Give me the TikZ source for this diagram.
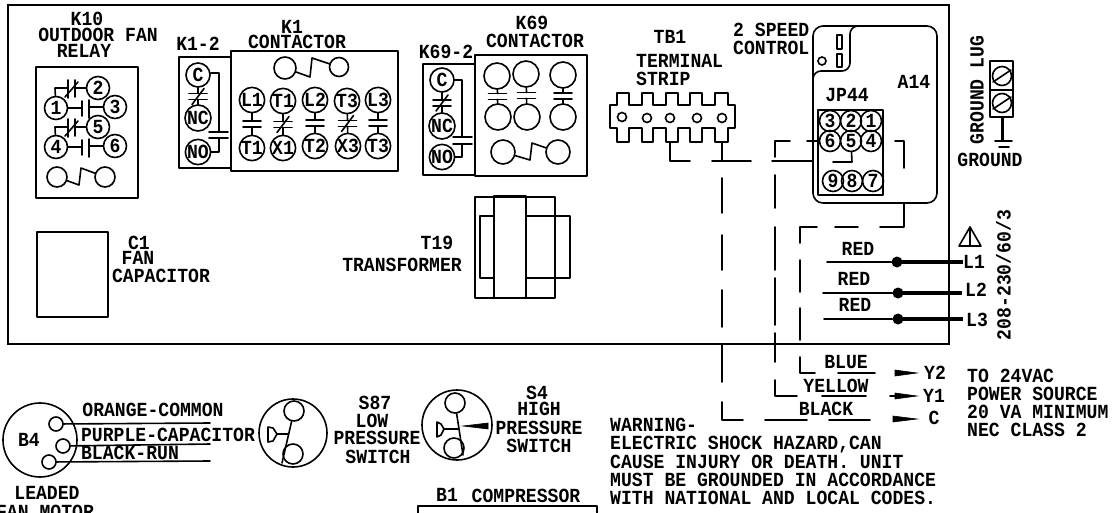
\documentclass[tikz,border=0pt]{standalone}
\usepackage{fontspec}
\newfontfamily\cadfont{Liberation Mono Bold}[FakeStretch=0.905]
\usetikzlibrary{calc}
\tikzset{
  wire/.style={line width=1.6pt,line cap=round,line join=round},
  heavy/.style={line width=4.4pt},
  lbl/.style={inner sep=0pt,text height=13pt,text depth=0pt,font=\fontsize{20}{20}\cadfont},
  term/.style={circle,draw,line width=1.6pt,inner sep=0pt,minimum size=#1,text height=13pt,text depth=0pt,font=\fontsize{20}{20}\cadfont},
  term/.default=24pt,
  hole/.style={circle,draw,line width=1.6pt,inner sep=0pt,minimum size=#1},
  hole/.default=9pt,
  dot/.style={circle,fill=black,inner sep=0pt,minimum size=11pt},
  tip/.style={fill=black,draw=black,line width=0.6pt}
}
% vertical contact between two terminals
\newcommand\vcont[2]{%
  \coordinate (m) at ($(#1)!0.5!(#2)$);
  \draw[wire] (#1) -- ($(m)+(0,-3)$);
  \draw[wire] (#2) -- ($(m)+(0,3)$);
  \draw[wire] ($(m)+(-9,-3)$) -- ($(m)+(9,-3)$);
  \draw[wire] ($(m)+(-9,3)$) -- ($(m)+(9,3)$);
}
\newcommand\vslash[2]{%
  \vcont{#1}{#2}
  \draw[wire] ($(m)+(-6,8)$) -- ($(m)+(6,-8)$);
}
\begin{document}
\begin{tikzpicture}[x=1pt,y=-1pt]
\useasboundingbox (0,0) rectangle (1112,512);
\clip (0,0) rectangle (1112,512);
\fill[white] (0,0) rectangle (1112,512);

% main frame
\draw[line width=1.6pt] (8,5) rectangle (949,344);
\draw[line width=2.4pt] (8,5) -- (949,5);

% K10
\node[lbl] (tk10) at (87,19) {K10};
\node[lbl] (tofr) at (98,35) {OUTDOOR FAN};
\node[lbl] (trel) at (84,51) {RELAY};
\draw[wire,line width=1.8pt] (36,67) rectangle (138,198);
\node[term=23pt] (r2) at (98,88) {2};
\node[term=23pt] (r3) at (115,107) {3};
\node[term=23pt] (r1) at (56,108) {1};
\node[term=23pt] (r5) at (98,127) {5};
\node[term=23pt] (r4) at (56,147) {4};
\node[term=23pt] (r6) at (115,146) {6};
\node[hole=20pt] (rca) at (57,177) {};
\node[hole=20pt] (rcb) at (105,177) {};
\draw[wire] (r1) -- (82,108) (82,101) -- (82,116) (89,100) -- (89,118) (89,107) -- (r3);
\draw[wire] (r4) -- (82,147) (82,140) -- (82,155) (89,139) -- (89,157) (89,146) -- (r6);
\draw[wire] (r1) -- (55,88) -- (68,88) (68,80) -- (68,98) (75,80) -- (75,97) (75,88) -- (r2) (65,97) -- (78,82);
\draw[wire] (r4) -- (55,127) -- (68,127) (68,119) -- (68,137) (75,119) -- (75,136) (75,127) -- (r5) (65,136) -- (78,121);
\draw[wire] (rca) -- (79,185) -- (81,168) -- (rcb);

% K1-2
\node[lbl] (tk12) at (198,44) {K1-2};
\draw[wire,line width=1.8pt] (231,57) -- (179,57) -- (179,168) -- (231,168);
\node[term=24pt] (c1) at (198,75) {C};
\node[term=26pt] (nc1) at (198,118) {NC};
\node[term=24pt] (no1) at (198,152) {NO};
\vslash{c1}{nc1}
\draw[wire] (c1.east |- 0,73) -- (219,73) -- (219,132) (209,132) -- (228,132) (209,138) -- (228,138) (219,138) -- (219,152) -- (no1);

% K1
\node[lbl] (tk1) at (292,27) {K1};
\node[lbl] (tk1c) at (297,42) {CONTACTOR};
\draw[wire,line width=1.8pt] (231,51) rectangle (398,171);
\node[hole=22pt] (k1ca) at (285,68) {};
\node[hole=19pt] (k1cb) at (339,67) {};
\draw[wire] (k1ca) -- (310,77) -- (312,58) -- (k1cb);
\node[term=24pt] (kL1) at (252,100) {L1};
\node[term=24pt] (kT1) at (283,101) {T1};
\node[term=24pt] (kL2) at (315,100) {L2};
\node[term=24pt] (kT3) at (347,101) {T3};
\node[term=24pt] (kL3) at (378,100) {L3};
\node[term=24pt] (kb1) at (252,148) {T1};
\node[term=24pt] (kb2) at (283,148) {X1};
\node[term=24pt] (kb3) at (315,146) {T2};
\node[term=24pt] (kb4) at (348,146) {X3};
\node[term=24pt] (kb5) at (378,146) {T3};
\vcont{kL1}{kb1}
\vslash{kT1}{kb2}
\vcont{kL2}{kb3}
\vslash{kT3}{kb4}
\vcont{kL3}{kb5}

% K69-2
\node[lbl] (tk692) at (446,52) {K69-2};
\draw[wire,line width=1.8pt] (475,64) -- (423,64) -- (423,175) -- (475,175);
\node[term=24pt] (c2) at (442,80) {C};
\node[term=26pt] (nc2) at (442,126) {NC};
\node[term=24pt] (no2) at (442,157) {NO};
\vslash{c2}{nc2}
\draw[wire] (c2) -- (462,80) -- (462,137) (453,137) -- (472,137) (453,144) -- (472,144) (462,144) -- (462,157) -- (no2);

% K69
\node[lbl] (tk69) at (532,23) {K69};
\node[lbl] (tk69c) at (535,41) {CONTACTOR};
\draw[wire,line width=1.8pt] (475,55) rectangle (587,176);
\node[hole=26pt] (qa) at (497,76) {};
\node[hole=26pt] (qb) at (526,74) {};
\node[hole=26pt] (qc) at (563,75) {};
\node[hole=26pt] (qd) at (498,117) {};
\node[hole=26pt] (qe) at (527,117) {};
\node[hole=26pt] (qf) at (563,117) {};
\vcont{qa}{qd}
\vcont{qb}{qe}
\vcont{qc}{qf}
\node[hole=24pt] (qca) at (503,152) {};
\node[hole=24pt] (qcb) at (558,152) {};
\draw[wire] (qca) -- (530,160) -- (532,143) -- (qcb);

% TB1
\node[lbl] (ttb) at (670,37) {TB1};
\node[lbl,anchor=west] (tts) at (636,61) {TERMINAL};
\node[lbl,anchor=west] (ttr) at (636,79) {STRIP};
\draw[wire] (610,128) -- (610,105) -- (617,105) -- (617,93) -- (629,93) -- (629,105) -- (642,105) -- (642,93) -- (653,93) -- (653,105) -- (666,105) -- (666,93) -- (678,93) -- (678,105) -- (690,105) -- (690,93) -- (702,93) -- (702,105) -- (715,105) -- (715,93) -- (728,93) -- (728,105) -- (735,105) -- (735,128) -- (728,128) -- (728,142) -- (715,142) -- (715,128) -- (702,128) -- (702,142) -- (690,142) -- (690,128) -- (678,128) -- (678,142) -- (666,142) -- (666,128) -- (653,128) -- (653,142) -- (642,142) -- (642,128) -- (629,128) -- (629,142) -- (617,142) -- (617,128) -- cycle;
\node[hole] (tba) at (622,117) {};
\node[hole] (tbb) at (647,118) {};
\node[hole] (tbc) at (670,118) {};
\node[hole] (tbd) at (697,118) {};
\node[hole] (tbe) at (722,118) {};

% A14 board
\node[lbl,anchor=west] (t2sp) at (733,30) {2 SPEED};
\node[lbl,anchor=west] (t2ct) at (733,48) {CONTROL};
\draw[wire,rounded corners=10pt] (813,203) rectangle (937,26);
\draw[wire,rounded corners=8pt] (862,26) -- (850,26) -- (850,71) -- (813,71) -- (813,88);
\draw[wire] (837,35) rectangle (842,49) (837,54) rectangle (842,67);
\node[hole=8pt] (a14h) at (822,61) {};
\node[lbl] (ta14) at (914,82) {A14};
\node[lbl] (tjp) at (847,95) {JP44};
\draw[wire] (818,110) rectangle (883,195);
\node[term=21pt] (j3) at (830,121) {3};
\node[term=21pt] (j2) at (851,121) {2};
\node[term=21pt] (j1) at (871,121) {1};
\node[term=21pt] (j6) at (830,141) {6};
\node[term=21pt] (j5) at (851,141) {5};
\node[term=21pt] (j4) at (871,141) {4};
\node[term=21pt] (j9) at (833,181) {9};
\node[term=21pt] (j8) at (852,181) {8};
\node[term=21pt] (j7) at (873,181) {7};

% dashed wiring
\draw[wire] (tbc.center |- 0,142) -- (670,161) -- (690,161);
\draw[wire] (712,161) -- (751,161) (772,161) -- (813,161);
\draw[wire] (tbe.center |- 0,142) -- (722,160);
\draw[wire] (722,178) -- (722,213) (722,235) -- (722,270) (722,290) -- (722,327) (722,345) -- (722,382);
\draw[wire] (722,402) -- (722,420) -- (743,420) (765,420) -- (807,420) (829,420) -- (870,420);
\coordinate (w6) at (807,141);
\draw[wire] (j6) -- (w6);
\draw[wire] (790,141) -- (775,141) -- (775,157) (775,175) -- (775,208) (775,227) -- (775,270) (775,278) -- (775,325) (775,333) -- (775,362);
\draw[wire] (775,380) -- (775,396) -- (797,396) (822,396) -- (866,396);
\draw[wire] (j5) -- (852,162) -- (833,162);
\draw[wire] (j4) -- (883,141);
\draw[wire] (895,141) -- (904,141) -- (904,168);
\draw[wire] (904,203) -- (904,227) -- (880,227) (858,227) -- (835,227) (817,227) -- (800,227) -- (800,243) (800,260) -- (800,292) (800,308) -- (800,340);
\draw[wire] (800,357) -- (800,373) -- (815,373) (838,373) -- (875,373);

% ground lug
\node[lbl,rotate=90] (tgl) at (977,90) {GROUND LUG};
\draw[wire] (990,61) rectangle (1013,117) (990,90) -- (1013,90);
\node[hole=19pt] (sc1) at (1002,76) {};
\node[hole=19pt] (sc2) at (1002,103) {};
\draw[wire] (993,82) -- (1011,70) (993,109) -- (1011,97);
\draw[line width=3pt] (1002,117) -- (1002,140);
\draw[wire] (995,141) -- (1012,141) (999,147) -- (1009,147);
\node[lbl] (tgr) at (990,160) {GROUND};

% C1, T19
\draw[wire] (37,232) rectangle (108,317);
\node[lbl] (tc1) at (139,243) {C1};
\node[lbl] (tfan) at (138,258) {FAN};
\node[lbl] (tcap) at (161,276) {CAPACITOR};
\node[lbl] (tt19) at (437,243) {T19};
\node[lbl] (ttr2) at (402,265) {TRANSFORMER};
\draw[wire] (475,197) rectangle (555,298);
\draw[wire] (494,196) rectangle (526,298);
\draw[wire] (494,216) -- (480,216) -- (480,278) -- (494,278);
\draw[wire] (526,216) -- (570,216) -- (570,278) -- (526,278);

% line inputs
\node[lbl] (tr1) at (858,249) {RED};
\node[lbl] (tr2) at (854,279) {RED};
\node[lbl] (tr3) at (855,305) {RED};
\node[dot] (d1) at (897,262) {};
\node[dot] (d2) at (898,293) {};
\node[dot] (d3) at (898,319) {};
\coordinate (s1) at (827,262);
\coordinate (s2) at (823,293);
\coordinate (s3) at (824,319);
\draw[wire] (s1) -- (d1);
\draw[wire] (s2) -- (d2);
\draw[wire] (s3) -- (d3);
\node[lbl,anchor=west] (tl1) at (963,262) {L1};
\node[lbl,anchor=west] (tl2) at (965,290) {L2};
\node[lbl,anchor=west] (tl3) at (966,320) {L3};
\draw[heavy] (d1.center) -- (tl1.west);
\draw[heavy] (d2.center) -- (962,293);
\draw[heavy] (d3.center) -- (963,319);
\draw[wire] (970,227) -- (959,246) -- (981,246) -- cycle (970,227) -- (970,246);
\node[lbl,rotate=90] (tvolt) at (1004,275) {208-230/60/3};

% low voltage
\node[lbl] (tbl) at (846,362) {BLUE};
\node[lbl] (tye) at (836,386) {YELLOW};
\node[lbl] (tbk) at (826,409) {BLACK};
\node[lbl] (ty2) at (935,373) {Y2};
\node[lbl] (ty1) at (934,396) {Y1};
\node[lbl] (tcc) at (934,418) {C};
\fill[tip] (895,370) -- (917,373) -- (895,376) -- cycle;
\draw[wire] (890,396) -- (905,396);
\fill[tip] (895,393) -- (917,396) -- (895,399) -- cycle;
\fill[tip] (893,416) -- (917,419) -- (893,422) -- cycle;
\node[lbl,anchor=west] (tpw1) at (967,376) {TO 24VAC};
\node[lbl,anchor=west] (tpw2) at (967,394) {POWER SOURCE};
\node[lbl,anchor=west] (tpw3) at (967,412) {20 VA MINIMUM};
\node[lbl,anchor=west] (tpw4) at (967,430) {NEC CLASS 2};

% warning
\node[lbl,anchor=west] (tw1) at (610,425) {WARNING-};
\node[lbl,anchor=west] (tw2) at (610,443) {ELECTRIC SHOCK HAZARD,CAN};
\node[lbl,anchor=west] (tw3) at (610,462) {CAUSE INJURY OR DEATH. UNIT};
\node[lbl,anchor=west] (tw4) at (610,480) {MUST BE GROUNDED IN ACCORDANCE};
\node[lbl,anchor=west] (tw5) at (610,498) {WITH NATIONAL AND LOCAL CODES.};

% B4 motor
\node[hole=74pt] (b4) at (40,440) {};
\node[lbl] (tb4) at (29,440) {B4};
\node[hole=14pt] (m1) at (56,424) {};
\node[hole=14pt] (m2) at (63,446) {};
\node[hole=14pt] (m3) at (49,462) {};
\coordinate (e1) at (210,423);
\coordinate (e2) at (210,444);
\coordinate (e3) at (210,461);
\draw[wire] (m1) -- (e1);
\draw[wire] (m2) -- (e2);
\draw[wire] (m3) -- (e3);
\node[lbl] (tora) at (153,410) {ORANGE-COMMON};
\node[lbl] (tpur) at (168,435) {PURPLE-CAPACITOR};
\node[lbl] (tbru) at (130,453) {BLACK-RUN};
\node[lbl] (tlead) at (47,493) {LEADED};
\node[lbl] (tfm) at (45,512) {FAN MOTOR};

% S87
\node[hole=68pt] (s87) at (293,433) {};
\node[hole=20pt] (s87a) at (294,411) {};
\node[hole=20pt] (s87b) at (293,454) {};
\draw[wire] (s87a) -- (282,463);
\draw[wire] (268,427) -- (268,442) -- (273,441) -- (277,434) -- (273,428) -- cycle (277,434) -- (288,434);
\node[lbl] (ts87) at (375,403) {S87};
\node[lbl] (tlow) at (372,421) {LOW};
\node[lbl] (tpr1) at (377,438) {PRESSURE};
\node[lbl] (tsw1) at (378,457) {SWITCH};

% S4
\node[hole=70pt] (s4) at (457,425) {};
\node[hole=20pt] (s4a) at (455,403) {};
\node[hole=20pt] (s4b) at (454,448) {};
\draw[wire] (s4a) -- (463,455);
\draw[wire] (437,422) -- (437,437) -- (441,435) -- (444,429) -- (441,424) -- cycle (444,429) -- (458,429);
\fill[tip] (463,426) -- (488,423) -- (488,429) -- cycle;
\node[lbl] (ts4) at (537,393) {S4};
\node[lbl] (thi) at (539,409) {HIGH};
\node[lbl] (tpr2) at (539,428) {PRESSURE};
\node[lbl] (tsw2) at (539,446) {SWITCH};

% B1
\node[lbl] (tb1) at (447,495) {B1};
\node[lbl] (tcom) at (526,496) {COMPRESSOR};
\draw[wire] (418,514) -- (418,506) -- (597,506) -- (597,514);
\end{tikzpicture}
\end{document}
